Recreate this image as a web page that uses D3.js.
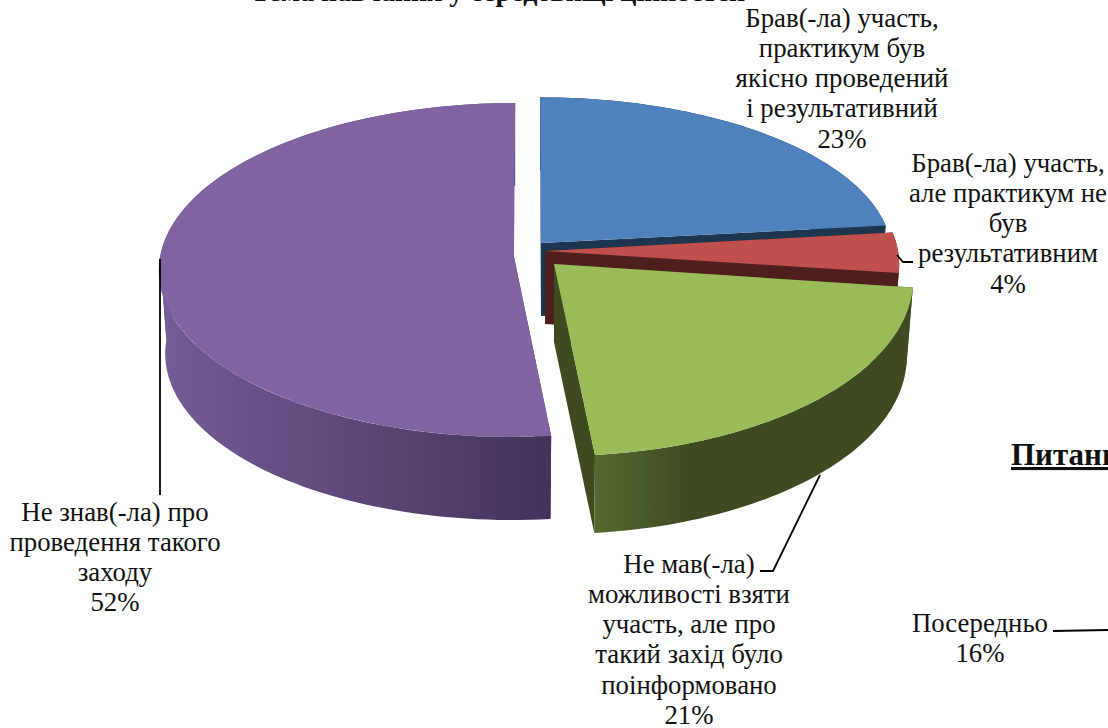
<!DOCTYPE html>
<html lang="uk">
<head>
<meta charset="utf-8">
<script src="https://cdn.jsdelivr.net/npm/d3@7"></script>
<style>
html,body{margin:0;padding:0;background:#fff;overflow:hidden}
svg{display:block}
text{font-family:"Liberation Serif",serif;fill:#111}
</style>
</head>
<body>
<svg id="c" width="1108" height="728"></svg>
<script>
// ---- data ----
const categories = [
  "Брав(-ла) участь, практикум був якісно проведений і результативний",
  "Брав(-ла) участь, але практикум не був результативним",
  "Не мав(-ла) можливості взяти участь, але про такий захід було поінформовано",
  "Не знав(-ла) про проведення такого заходу"
];
const values = [23.2, 3.9, 21.3, 51.6];
const labelLines = [
  ["Брав(-ла) участь,", "практикум був", "якісно проведений", "і результативний"],
  ["Брав(-ла) участь,", "але практикум не", "був", "результативним"],
  ["Не мав(-ла)", "можливості взяти", "участь, але про", "такий захід було", "поінформовано"],
  ["Не знав(-ла) про", "проведення такого", "заходу"]
];
const titleText = "Тема навчання у середовищі цінностей";
const headingText = "Питання";
const strayLabel = ["Посередньо", "16%"];

// ---- layout and style ----
const topColors  = ["#4f81bd", "#c0504d", "#9bbb59", "#8064a2"];
const wallColors = ["#1d3650", "#4f1f1e", "#3f4a21", "#453358"];
const apexes     = [[541, 243], [545, 251], [554, 264], [514, 257]];
const radiiX     = [350, 353, 358, 354];
const radiiY     = [157, 166, 177, 166];
const depths     = [73, 73, 78, 83];
const persp = 0.078, lowerScale = 0.982, vanishX = 530;
const labelBoxes = [[842, 26.5], [1008, 171.5], [689, 572.5], [115, 520.5]];
const lineH = 30.3, fontSize = 26.8;

const svg = d3.select("#c");
const defs = svg.append("defs");
const rimGrad = (id, x1, x2, stops) => {
  const g = defs.append("linearGradient").attr("id", id)
    .attr("gradientUnits", "userSpaceOnUse")
    .attr("x1", x1).attr("x2", x2).attr("y1", 0).attr("y2", 0);
  stops.forEach(s => g.append("stop").attr("offset", s[0]).attr("stop-color", s[1]));
};
rimGrad("rim3", 160, 548, [[0, "#745c96"], [0.45, "#60497c"], [1, "#433359"]]);
rimGrad("rim2", 595, 690, [[0, "#55682f"], [1, "#3f4a21"]]);

const pie = d3.pie().sort(null).value(d => d);
const arcs = pie(values);

const project = (i, a, lower) => {
  const u = Math.sin(a), v = -Math.cos(a);
  const s = 1 / (1 - persp * v);
  const k = lower ? lowerScale : 1;
  const [ax, ay] = apexes[i];
  return [vanishX + (ax - vanishX) * s + radiiX[i] * u * s * k,
          ay + radiiY[i] * v * s + (lower ? depths[i] : 0)];
};
const apexAt = (i, lower) => [apexes[i][0], apexes[i][1] + (lower ? depths[i] : 0)];
const line = d3.line();
const samples = (a0, a1) => d3.range(0, 61).map(d3.scaleLinear().domain([0, 60]).range([a0, a1]));
const folds = [Math.PI / 2, Math.PI * 1.5];

arcs.forEach((d, i) => {
  const g = svg.append("g");
  const as = samples(d.startAngle, d.endAngle);
  // radial walls (the back-facing wall at the full turn is never seen)
  [d.startAngle, d.endAngle].filter(a => a < 2 * Math.PI - 1e-6).forEach(a => {
    g.append("path").attr("fill", wallColors[i])
      .attr("d", line([apexAt(i, false), project(i, a, false), project(i, a, true), apexAt(i, true)]) + "Z");
  });
  // outer rim, split where it folds at the silhouette so it has no winding holes
  const breaks = [d.startAngle, ...folds.filter(f => f > d.startAngle && f < d.endAngle), d.endAngle];
  d3.pairs(breaks).forEach(([a0, a1]) => {
    const part = samples(a0, a1);
    const rim = part.map(a => project(i, a, false)).concat(part.slice().reverse().map(a => project(i, a, true)));
    g.append("path")
      .attr("fill", i === 3 ? "url(#rim3)" : i === 2 ? "url(#rim2)" : wallColors[i])
      .attr("d", line(rim) + "Z");
  });
  // top face
  g.append("path").attr("fill", topColors[i])
    .attr("d", line([apexAt(i, false)].concat(as.map(a => project(i, a, false)))) + "Z");
});

// leader lines
const leaders = [
  [[897, 255], [903, 262], [913, 262]],
  [[820, 475], [773, 571], [760, 571]],
  [[160, 259], [160, 495]],
  [[1053, 631], [1108, 630]]
];
leaders.forEach(p => svg.append("path").attr("d", line(p))
  .attr("fill", "none").attr("stroke", "#000").attr("stroke-width", 1.8));

// data labels
labelLines.forEach((lines, i) => {
  const [x, y] = labelBoxes[i];
  const t = svg.append("text").attr("text-anchor", "middle").attr("font-size", fontSize);
  lines.concat([d3.format(".0f")(values[i]) + "%"]).forEach((l, j) => {
    t.append("tspan").attr("x", x).attr("y", y + j * lineH).text(l);
  });
});

// clipped title and neighbouring page text
svg.append("text").attr("x", 251).attr("y", 1).attr("font-size", 28)
  .attr("font-weight", "bold").text(titleText);
svg.append("text").attr("x", 1011).attr("y", 465).attr("font-size", 31)
  .attr("font-weight", "bold").attr("text-decoration", "underline").text(headingText);
const st = svg.append("text").attr("text-anchor", "middle").attr("font-size", fontSize);
strayLabel.forEach((l, j) => st.append("tspan").attr("x", 980).attr("y", 632 + j * lineH).text(l));
</script>
</body>
</html>
